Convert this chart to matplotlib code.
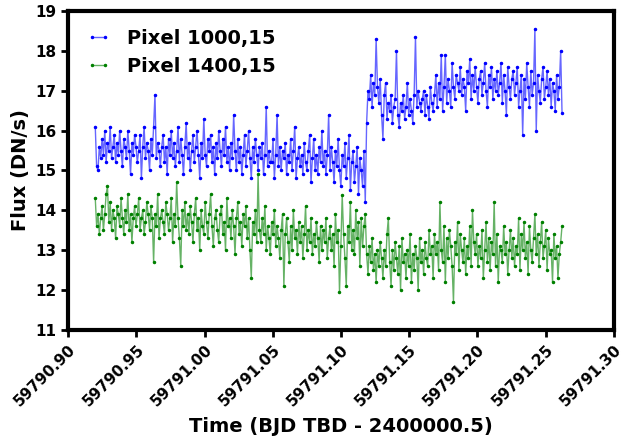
import numpy as np
import matplotlib
matplotlib.use('Agg')
import matplotlib.pyplot as plt
from matplotlib.ticker import FormatStrFormatter

# time axis: constant cadence
t_start = 59790.9198
cadence = 0.000995
n_points = 345

flux_1000 = [
    16.1, 15.1, 15.0, 15.6, 15.3, 15.8, 15.4, 16.0, 15.2, 15.7,
    15.5, 16.1, 15.3, 15.6, 15.9, 15.2, 15.7, 15.4, 16.0, 15.5,
    15.1, 15.8, 15.6, 15.3, 16.0, 15.5, 14.9, 15.7, 15.4, 15.9,
    15.6, 15.2, 15.5, 15.9, 14.8, 15.6, 16.1, 15.3, 15.7, 15.5,
    15.0, 15.8, 15.4, 16.1, 16.9, 15.3, 15.7, 15.5, 15.1, 15.6,
    15.9, 15.2, 15.6, 14.9, 15.8, 15.4, 16.0, 15.3, 15.7, 15.1,
    15.5, 16.1, 15.2, 15.8, 15.4, 14.9, 15.6, 16.2, 15.3, 15.7,
    15.0, 15.5, 15.9, 15.2, 15.6, 16.0, 15.4, 14.8, 15.7, 15.3,
    16.3, 15.4, 15.1, 15.8, 15.5, 15.9, 15.2, 15.6, 14.9, 15.7,
    15.3, 16.0, 15.5, 15.1, 15.8, 15.4, 16.1, 15.2, 15.6, 15.0,
    15.7, 15.3, 16.4, 15.5, 15.0, 15.8, 15.2, 15.6, 14.9, 15.4,
    15.9, 15.1, 15.5, 16.0, 15.3, 14.8, 15.6, 15.2, 15.8, 15.4,
    15.0, 15.6, 15.3, 15.7, 14.9, 15.4, 16.6, 15.1, 15.5, 15.2,
    15.2, 15.8, 14.8, 15.4, 16.4, 15.1, 15.6, 15.0, 15.5, 15.3,
    15.7, 14.9, 15.4, 15.2, 15.8, 15.0, 15.5, 16.1, 14.8, 15.3,
    15.6, 15.1, 15.4, 14.9, 15.7, 15.2, 15.0, 15.5, 15.9, 14.7,
    15.3, 15.8, 15.0, 15.4, 14.9, 15.6, 15.2, 16.0, 15.1, 15.5,
    14.9, 15.4, 16.4, 15.0, 15.6, 15.2, 14.7, 15.5, 15.1, 15.8,
    15.0, 14.6, 15.4, 15.1, 15.7, 14.8, 15.3, 15.9, 14.5, 15.2,
    15.5, 14.7, 15.1, 15.6, 14.4, 15.3, 15.0, 14.6, 15.5, 14.2,
    16.2, 17.0, 16.8, 17.4, 16.6, 17.2, 16.9, 18.3, 17.1, 16.7,
    17.3, 16.4, 15.8, 16.9, 17.2, 16.3, 16.7, 16.5, 16.9, 16.2,
    16.6, 16.8, 18.0, 16.4, 16.1, 16.7, 16.5, 16.9, 16.3, 16.6,
    17.2, 16.4, 16.8, 16.5, 16.2, 16.9, 18.35, 16.6, 17.0, 16.7,
    16.5, 16.8, 17.0, 16.4, 16.9, 16.6, 16.3, 17.1, 16.7, 16.5,
    16.9, 17.4, 16.6, 17.2, 16.8, 17.9, 16.5, 17.1, 17.9, 16.7,
    17.3, 17.0, 16.6, 17.7, 17.1, 16.8, 17.4, 17.2, 17.0, 17.6,
    16.9, 17.3, 17.1, 16.5, 17.5, 17.2, 17.8, 16.8, 17.4, 17.0,
    17.6, 17.1, 16.7, 17.3, 17.5, 16.9, 17.2, 17.7, 17.0, 16.6,
    17.4, 17.1, 17.6, 16.8, 17.3, 17.0, 17.5, 16.9, 17.2, 17.7,
    16.7, 17.4, 17.0, 16.4, 17.6, 17.1, 16.8, 17.3, 17.5, 16.9,
    17.2, 17.6, 16.6, 17.0, 17.4, 15.9, 17.3, 16.8, 17.7, 17.1,
    16.6, 17.5, 16.9, 17.2, 18.55, 16.0, 17.4, 17.0, 16.7, 17.3,
    17.6, 16.8, 17.1, 17.5, 16.9, 17.3, 16.6, 17.2, 17.0, 16.5,
    17.4, 16.8, 17.1, 18.0, 16.45,
]

flux_1400 = [
    14.3, 13.6, 13.9, 13.4, 13.8, 14.1, 13.5, 13.9, 14.4, 14.6,
    13.7, 14.2, 13.5, 14.0, 13.8, 13.3, 14.1, 13.9, 13.6, 14.3,
    13.8, 13.4, 14.0, 13.7, 14.4, 13.5, 13.9, 13.2, 13.8, 14.1,
    13.6, 13.9, 14.3, 13.5, 13.8, 14.0, 13.4, 13.7, 14.2, 13.9,
    13.5, 14.1, 13.8, 12.7, 13.9, 13.6, 14.4, 13.3, 13.8, 14.0,
    13.7, 13.4, 14.2, 13.9, 13.5, 13.8, 14.3, 13.2, 13.9, 13.6,
    14.7, 13.8, 13.3, 12.6, 14.0, 13.6, 14.2, 13.5, 13.9, 13.4,
    14.1, 13.7, 13.2, 13.9, 14.3, 13.5, 13.8, 13.0, 14.0, 13.6,
    13.4, 14.2, 13.7, 13.3, 13.9, 14.4, 13.6, 13.1, 13.8, 14.0,
    13.5, 13.2, 13.9, 14.1, 13.4, 13.7, 13.0, 14.3, 13.6, 13.8,
    13.3, 14.0, 13.6, 12.9, 13.8, 14.2, 13.4, 13.7, 13.1, 13.9,
    13.6, 14.1, 13.3, 13.8, 13.0, 12.3, 13.7, 13.4, 14.0, 13.2,
    14.9, 13.5, 13.2, 13.8, 13.4, 14.1, 13.0, 13.6, 13.3, 12.9,
    13.7, 13.4, 14.0, 13.1, 13.6, 13.3, 12.8, 13.5, 13.9, 12.1,
    13.4, 13.8, 13.2, 12.7, 13.6, 13.0, 14.0, 13.3, 13.5, 12.9,
    13.7, 13.2, 13.6, 12.8, 13.4, 14.1, 13.0, 13.5, 13.2, 13.8,
    12.9, 13.4, 13.1, 13.7, 13.3, 12.7, 13.6, 13.0, 13.5, 13.2,
    13.8, 12.8, 13.3, 13.6, 13.0, 13.4, 12.6, 13.9, 13.2, 13.5,
    11.95, 13.1, 14.38, 13.4, 12.8, 12.1, 13.6, 13.2, 14.2, 13.0,
    13.5, 12.9, 14.0, 13.3, 13.7, 12.6, 13.8, 13.1, 13.6, 13.9,
    12.9, 12.4, 13.1, 12.7, 13.3, 12.5, 12.9, 12.2, 13.0, 12.6,
    13.2, 12.8, 12.3, 13.0, 12.6, 13.4, 13.8, 12.7, 12.1, 13.0,
    12.5, 13.2, 12.8, 12.4, 13.1, 12.0, 13.3, 12.7, 12.9, 12.3,
    13.0, 12.6, 13.4, 12.2, 12.9, 12.5, 13.1, 12.8, 12.0, 13.3,
    12.7, 13.0, 12.4, 13.2, 12.8, 12.6, 13.5, 12.9, 13.1, 12.3,
    13.4, 12.9, 13.2, 12.5, 14.2, 13.0, 12.7, 13.6, 12.2, 13.3,
    12.8, 13.5, 13.1, 12.6, 11.7, 13.2, 12.9, 13.7, 12.5, 13.4,
    13.0, 12.7, 13.3, 12.4, 13.1, 12.8, 13.6, 12.6, 14.0, 13.2,
    12.9, 13.4, 12.6, 13.1, 12.8, 13.5, 12.3, 13.0, 13.7, 12.7,
    13.3, 12.5, 13.2, 12.9, 14.2, 12.6, 13.4, 12.2, 13.1, 13.0,
    12.7, 13.6, 12.9, 13.2, 12.4, 13.0, 13.5, 12.8, 13.3, 12.6,
    13.1, 12.9, 13.8, 12.5, 13.4, 13.0, 13.7, 12.8, 13.2, 12.4,
    13.6, 13.0, 12.7, 13.3, 13.9, 12.9, 13.4, 12.6, 13.2, 13.7,
    12.8, 13.1, 13.5, 12.5, 13.3, 12.9, 13.0, 12.2, 13.4, 12.8,
    13.1, 12.3, 12.9, 13.2, 13.6,
]

time = t_start + cadence * np.arange(n_points)

fig, ax = plt.subplots(figsize=(6.44, 4.41), dpi=100)
fig.subplots_adjust(left=0.106, right=0.953, top=0.975, bottom=0.252)

# semi-transparent connecting line, solid dots
ax.plot(time, flux_1000, color=(0, 0, 1, 0.6), marker='.', markersize=3,
        markerfacecolor='blue', markeredgecolor='blue', linewidth=1, label='Pixel 1000,15')
ax.plot(time, flux_1400, color=(0, 0.5, 0, 0.6), marker='.', markersize=3,
        markerfacecolor='green', markeredgecolor='green', linewidth=1, label='Pixel 1400,15')

ax.set_xlim(59790.90, 59791.30)
ax.set_ylim(11, 19)
ax.set_xticks(np.arange(59790.90, 59791.301, 0.05))
ax.xaxis.set_major_formatter(FormatStrFormatter('%.2f'))

for side in ax.spines.values():
    side.set_linewidth(3)
ax.tick_params(width=2, length=5, labelsize=11)
for lbl in ax.get_xticklabels() + ax.get_yticklabels():
    lbl.set_fontweight('bold')
plt.setp(ax.get_xticklabels(), rotation=45, ha='right', rotation_mode='anchor')

ax.set_xlabel('Time (BJD TBD - 2400000.5)', fontsize=14, fontweight='bold', labelpad=6)
ax.set_ylabel('Flux (DN/s)', fontsize=14, fontweight='bold')
ax.legend(loc='upper left', frameon=False, numpoints=2, handlelength=1.3,
          prop={'weight': 'bold', 'size': 14})

plt.savefig('out.png')
plt.close()
